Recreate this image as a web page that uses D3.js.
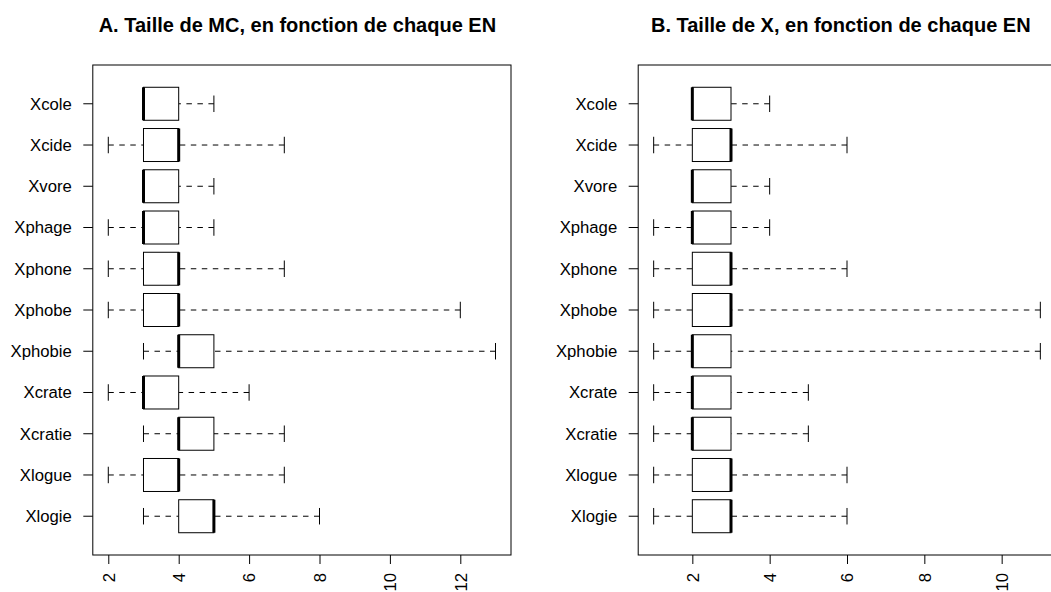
<!DOCTYPE html>
<html>
<head>
<meta charset="utf-8">
<script src="https://cdn.jsdelivr.net/npm/d3@7"></script>
<style>
  html, body { margin: 0; padding: 0; background: #fff; overflow: hidden; }
  svg { display: block; }
  text { font-family: "Liberation Sans", Arial, Helvetica, sans-serif; fill: #000; }
</style>
</head>
<body>
<svg id="chart" width="1051" height="592"></svg>
<script>
// ---- Data (top to bottom as displayed) ----
const categories = ["Xcole","Xcide","Xvore","Xphage","Xphone","Xphobe","Xphobie","Xcrate","Xcratie","Xlogue","Xlogie"];

// Panel A: Taille de MC
const mcMin = [3, 2, 3, 2, 2, 2, 3, 2, 3, 2, 3];
const mcQ1  = [3, 3, 3, 3, 3, 3, 4, 3, 4, 3, 4];
const mcMed = [3, 4, 3, 3, 4, 4, 4, 3, 4, 4, 5];
const mcQ3  = [4, 4, 4, 4, 4, 4, 5, 4, 5, 4, 5];
const mcMax = [5, 7, 5, 5, 7, 12, 13, 6, 7, 7, 8];
const mcTicks = [2, 4, 6, 8, 10, 12];

// Panel B: Taille de X
const xMin = [2, 1, 2, 1, 1, 1, 1, 1, 1, 1, 1];
const xQ1  = [2, 2, 2, 2, 2, 2, 2, 2, 2, 2, 2];
const xMed = [2, 3, 2, 2, 3, 3, 2, 2, 2, 3, 3];
const xQ3  = [3, 3, 3, 3, 3, 3, 3, 3, 3, 3, 3];
const xMax = [4, 6, 4, 4, 6, 11, 11, 5, 5, 6, 6];
const xTicks = [2, 4, 6, 8, 10];

const titles = ["A. Taille de MC, en fonction de chaque EN", "B. Taille de X, en fonction de chaque EN"];

const svg = d3.select("#chart");

function panel(cfg) {
  const n = categories.length;
  const top = 65, bottom = 555;
  const x = d3.scaleLinear().domain(cfg.domain).range([cfg.left, cfg.right]);
  // index 1 = bottom category (R convention), n = top
  const y = d3.scaleLinear().domain([0.5 - 0.44, n + 0.5 + 0.44]).range([bottom, top]);
  const unit = Math.abs(y(1) - y(0));
  const g = svg.append("g");

  const rows = categories.map((c, i) => ({
    name: c, pos: n - i,
    lo: cfg.lo[i], q1: cfg.q1[i], med: cfg.med[i], q3: cfg.q3[i], hi: cfg.hi[i]
  }));

  // whiskers (dashed)
  rows.forEach(d => {
    const yy = y(d.pos);
    g.append("line").attr("x1", x(d.lo)).attr("x2", x(d.q1)).attr("y1", yy).attr("y2", yy)
      .attr("stroke", "#000").attr("stroke-width", 1).attr("stroke-dasharray", "5.5,5.5");
    g.append("line").attr("x1", x(d.hi)).attr("x2", x(d.q3)).attr("y1", yy).attr("y2", yy)
      .attr("stroke", "#000").attr("stroke-width", 1).attr("stroke-dasharray", "5.5,5.5");
    // staples
    const half = unit * 0.2;
    [d.lo, d.hi].forEach(v => {
      g.append("line").attr("x1", x(v)).attr("x2", x(v)).attr("y1", yy - half).attr("y2", yy + half)
        .attr("stroke", "#000").attr("stroke-width", 1);
    });
    // box
    const bh = unit * 0.4;
    g.append("rect").attr("x", x(d.q1)).attr("y", yy - bh).attr("width", x(d.q3) - x(d.q1)).attr("height", 2 * bh)
      .attr("fill", "#fff").attr("stroke", "#000").attr("stroke-width", 1);
    // median
    g.append("line").attr("x1", x(d.med)).attr("x2", x(d.med)).attr("y1", yy - bh).attr("y2", yy + bh)
      .attr("stroke", "#000").attr("stroke-width", 3);
  });

  // frame
  g.append("rect").attr("x", cfg.left).attr("y", top).attr("width", cfg.right - cfg.left).attr("height", bottom - top)
    .attr("fill", "none").attr("stroke", "#000").attr("stroke-width", 1);

  // y axis ticks + labels
  rows.forEach(d => {
    const yy = y(d.pos);
    g.append("line").attr("x1", cfg.left).attr("x2", cfg.left - 9.5).attr("y1", yy).attr("y2", yy)
      .attr("stroke", "#000").attr("stroke-width", 1);
    g.append("text").attr("x", cfg.left - 21).attr("y", yy).attr("dy", "0.35em")
      .attr("text-anchor", "end").attr("font-size", "16.7px").text(d.name);
  });

  // x axis
  const xa = d3.axisBottom(x).tickValues(cfg.ticks).tickSize(9).tickFormat(d3.format("d"));
  const ax = g.append("g").attr("transform", `translate(0,${bottom})`).call(xa);
  ax.select(".domain").remove();
  ax.selectAll(".tick line").attr("stroke", "#000");
  ax.selectAll(".tick text")
    .attr("font-size", "16.7px").attr("font-family", "Liberation Sans, Arial, sans-serif")
    .attr("fill", "#000")
    .attr("text-anchor", "end")
    .attr("y", 0).attr("x", 0).attr("dy", "0.35em")
    .attr("transform", "translate(0,18) rotate(-90)");

  // title
  svg.append("text").attr("x", cfg.titleX).attr("y", 32).attr("text-anchor", "middle")
    .attr("font-size", "20px").attr("font-weight", "bold").text(cfg.title);
}

panel({ left: 92.8, right: 511, domain: [2 - 0.44, 13 + 0.44], lo: mcMin, q1: mcQ1, med: mcMed, q3: mcQ3, hi: mcMax,
        ticks: mcTicks, title: titles[0], titleX: 297.4 });
panel({ left: 638.2, right: 1055.8, domain: [1 - 0.4, 11 + 0.4], lo: xMin, q1: xQ1, med: xMed, q3: xQ3, hi: xMax,
        ticks: xTicks, title: titles[1], titleX: 840.8 });
</script>
</body>
</html>
